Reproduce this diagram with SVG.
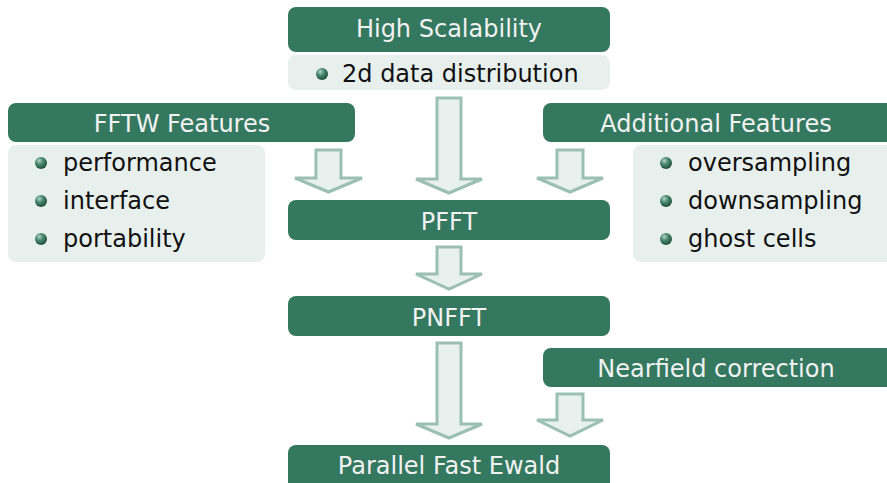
<svg xmlns="http://www.w3.org/2000/svg" width="887" height="483" viewBox="0 0 887 483">
<style>
.hd{fill:#33785f}
.bd{fill:#e8f0ed}
.ht{font-family:"DejaVu Sans",sans-serif;font-size:24px;fill:#f2f2f2}
.bt{font-family:"DejaVu Sans",sans-serif;font-size:24px;fill:#111}
.ar{fill:#e8f1ee;stroke:#9cbfb3;stroke-width:3;stroke-linejoin:miter}
.bl{fill:url(#ball)}
</style>
<defs>
<radialGradient id="ball" cx="0.4" cy="0.35" r="0.75" fx="0.35" fy="0.3">
<stop offset="0" stop-color="#b5d6ca"/>
<stop offset="0.4" stop-color="#4a8a73"/>
<stop offset="1" stop-color="#163f30"/>
</radialGradient>
</defs>
<g id="connectors">
<polygon class="ar" points="437,98 461,98 461,179 482,179 449,193 416,179 437,179"/>
<polygon class="ar" points="316,150 341,150 341,178 362,178 328.5,192 295,178 316,178"/>
<polygon class="ar" points="557,150 583,150 583,178 603,178 570,192 537,178 557,178"/>
<polygon class="ar" points="437,247 461,247 461,274 482,274 449,289 416,274 437,274"/>
<polygon class="ar" points="437,343 461,343 461,424 482,424 449,438 416,424 437,424"/>
<polygon class="ar" points="557,394 583,394 583,420 603,420 570,436 537,420 557,420"/>
</g>
<g id="high-scalability">
<rect class="hd" x="288" y="7" width="322" height="45" rx="8"/>
<text class="ht" x="449" y="37" text-anchor="middle">High Scalability</text>
<rect class="bd" x="288" y="55" width="322" height="35" rx="8"/>
<circle class="bl" cx="322" cy="74" r="6"/>
<text class="bt" x="342" y="82">2d data distribution</text>
</g>
<g id="fftw-features">
<rect class="hd" x="8" y="103" width="347" height="39" rx="8"/>
<text class="ht" x="182" y="132" text-anchor="middle">FFTW Features</text>
<rect class="bd" x="8" y="145" width="257" height="117" rx="8"/>
<circle class="bl" cx="41" cy="163" r="6"/>
<text class="bt" x="63" y="171">performance</text>
<circle class="bl" cx="41" cy="201" r="6"/>
<text class="bt" x="63" y="209">interface</text>
<circle class="bl" cx="41" cy="239" r="6"/>
<text class="bt" x="63" y="247">portability</text>
</g>
<g id="additional-features">
<rect class="hd" x="543" y="103" width="354" height="39" rx="8"/>
<text class="ht" x="716" y="132" text-anchor="middle">Additional Features</text>
<rect class="bd" x="633" y="145" width="264" height="117" rx="8"/>
<circle class="bl" cx="666" cy="163" r="6"/>
<text class="bt" x="688" y="171">oversampling</text>
<circle class="bl" cx="666" cy="201" r="6"/>
<text class="bt" x="688" y="209">downsampling</text>
<circle class="bl" cx="666" cy="239" r="6"/>
<text class="bt" x="688" y="247">ghost cells</text>
</g>
<g id="pfft">
<rect class="hd" x="288" y="200" width="322" height="40" rx="8"/>
<text class="ht" x="449" y="230" text-anchor="middle">PFFT</text>
</g>
<g id="pnfft">
<rect class="hd" x="288" y="296" width="322" height="40" rx="8"/>
<text class="ht" x="449" y="326" text-anchor="middle">PNFFT</text>
</g>
<g id="nearfield">
<rect class="hd" x="543" y="348" width="354" height="39" rx="8"/>
<text class="ht" x="716" y="377" text-anchor="middle">Nearfield correction</text>
</g>
<g id="parallel-fast-ewald">
<rect class="hd" x="288" y="445" width="322" height="48" rx="8"/>
<text class="ht" x="449" y="474" text-anchor="middle">Parallel Fast Ewald</text>
</g>
</svg>
